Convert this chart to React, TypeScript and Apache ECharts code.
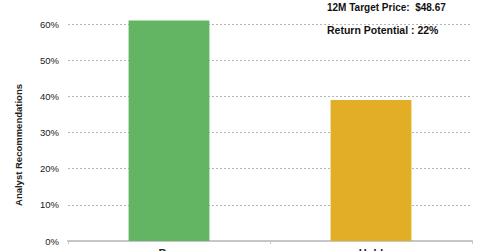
import React, { useEffect, useRef } from "react";
import * as echarts from "echarts";

const categories = ["Buy", "Hold"];
const recommendationPct = [61, 39];
const barColors = ["#63b563", "#e1ae25"];
const yTicks = { min: 0, max: 60, interval: 10 };
const targetPriceText = "12M Target Price:  $48.67";
const returnPotentialText = "Return Potential : 22%";
const yAxisTitle = "Analyst Recommendations";

export default function App() {
  const ref = useRef<HTMLDivElement>(null);
  useEffect(() => {
    if (!ref.current) return;
    const chart = echarts.init(ref.current, null, { renderer: "svg" });
    chart.setOption({
      animation: false,
      backgroundColor: "#ffffff",
      textStyle: { fontFamily: "Liberation Sans, Arial, sans-serif" },
      grid: { left: 68, right: 8, top: 24, bottom: 10, containLabel: false, outerBoundsMode: "none" },
      xAxis: {
        type: "category",
        data: categories,
        axisLine: { show: true, lineStyle: { color: "#c6c6c6", width: 2 } },
        axisTick: { show: true, alignWithLabel: false, length: 3, lineStyle: { color: "#c6c6c6", width: 1 } },
        axisLabel: { margin: 6, fontSize: 11, fontWeight: "bold", color: "#222" },
        splitLine: { show: false },
      },
      yAxis: {
        type: "value",
        min: yTicks.min,
        max: yTicks.max,
        interval: yTicks.interval,
        axisLine: { show: false },
        axisTick: { show: false },
        axisLabel: { formatter: "{value}%", fontSize: 9.5, color: "#1a1a1a", margin: 9 },
        splitLine: { show: true, lineStyle: { type: [2, 2], color: "#b5b5b5", width: 1 } },
      },
      series: [
        {
          type: "bar",
          clip: false,
          data: recommendationPct.map((v, i) => ({ value: v, itemStyle: { color: barColors[i] } })),
          barWidth: "40%",
        },
      ],
      graphic: [
        {
          type: "text",
          x: 18,
          y: 145,
          rotation: Math.PI / 2,
          style: {
            text: yAxisTitle,
            fontSize: 9.5,
            fontWeight: "bold",
            fill: "#222",
            fontFamily: "Liberation Sans, Arial, sans-serif",
            align: "center",
            verticalAlign: "middle",
          },
        },
        {
          type: "text",
          x: 327,
          y: 7,
          style: {
            text: targetPriceText,
            fontSize: 10,
            fontWeight: "bold",
            fill: "#111",
            fontFamily: "Liberation Sans, Arial, sans-serif",
            align: "left",
            verticalAlign: "middle",
          },
        },
        {
          type: "text",
          x: 327,
          y: 29.5,
          style: {
            text: returnPotentialText,
            fontSize: 10.5,
            fontWeight: "bold",
            fill: "#111",
            fontFamily: "Liberation Sans, Arial, sans-serif",
            align: "left",
            verticalAlign: "middle",
          },
        },
      ],
    });
    return () => chart.dispose();
  }, []);
  return (
    <div
      ref={ref}
      style={{ position: "fixed", left: 0, top: 0, width: 480, height: 251 }}
    />
  );
}
